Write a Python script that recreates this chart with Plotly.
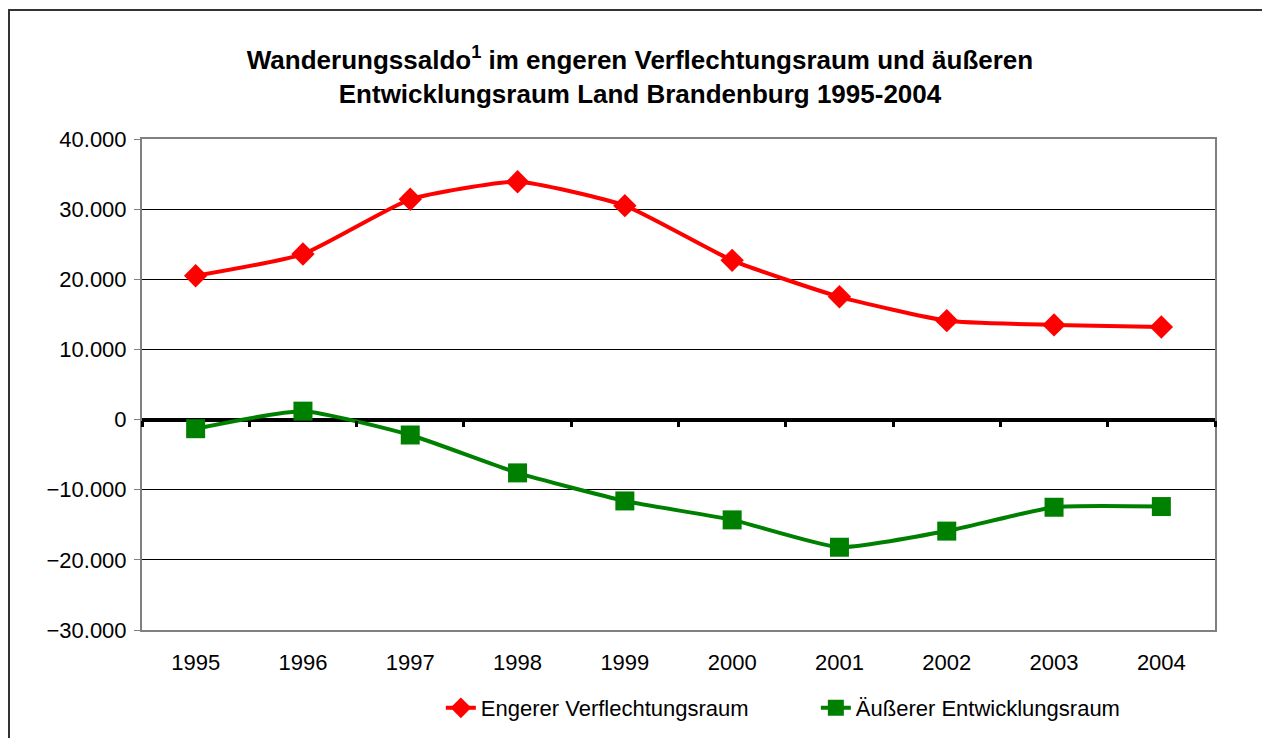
import plotly.graph_objects as go

years = ["1995", "1996", "1997", "1998", "1999", "2000", "2001", "2002", "2003", "2004"]
engerer = [20500, 23600, 31400, 33900, 30500, 22700, 17500, 14100, 13500, 13200]
aeusserer = [-1300, 1200, -2200, -7600, -11600, -14300, -18200, -15900, -12500, -12400]
y_ticks = [-30000, -20000, -10000, 0, 10000, 20000, 30000, 40000]

FONT = "Arial, Liberation Sans, sans-serif"

fig = go.Figure()
fig.add_trace(go.Scatter(
    x=years, y=engerer, name="Engerer Verflechtungsraum",
    mode="lines+markers", line=dict(color="#FF0000", width=4, shape="spline", smoothing=0.5),
    marker=dict(symbol="diamond", size=18, color="#FF0000"),
    xaxis="x", yaxis="y"))
fig.add_trace(go.Scatter(
    x=years, y=aeusserer, name="Äußerer Entwicklungsraum",
    mode="lines+markers", line=dict(color="#008000", width=4, shape="spline", smoothing=0.5),
    marker=dict(symbol="square", size=19, color="#008000"),
    xaxis="x2", yaxis="y"))

ymin, ymax = -30000, 40000
zero_pos = (0 - ymin) / (ymax - ymin)

W, H = 1262, 730
L, R, T, B = 134, 55, 131, 108
PW, PH = W - L - R, H - T - B

fig.update_layout(
    width=W, height=H,
    margin=dict(l=L, r=R, t=T, b=B, autoexpand=False),
    paper_bgcolor="white", plot_bgcolor="white",
    separators=",.",
    font=dict(family=FONT, size=22, color="black"),
    title=dict(
        text="<b>Wanderungssaldo<sup>1</sup> im engeren Verflechtungsraum und äußeren<br>Entwicklungsraum Land Brandenburg 1995-2004</b>",
        x=0.5008, xanchor="center", y=0.916, yanchor="middle",
        font=dict(family=FONT, size=26, color="black")),
    xaxis=dict(
        type="category", categoryorder="array", categoryarray=years,
        range=[-0.5, 9.5], showgrid=False, zeroline=False, automargin=False,
        showline=True, linecolor="#808080", linewidth=2, mirror=True,
        ticks="", ticklabelstandoff=12,
        tickfont=dict(family=FONT, size=22)),
    xaxis2=dict(
        type="category", categoryorder="array", categoryarray=years,
        range=[-0.5, 9.5], overlaying="x", anchor="free", position=zero_pos,
        showgrid=False, zeroline=False, showline=False, showticklabels=False,
        automargin=False,
        ticks="outside", tickson="boundaries", ticklen=6, tickwidth=3, tickcolor="black"),
    yaxis=dict(
        range=[ymin, ymax], tickvals=y_ticks, tickformat=",", automargin=False,
        showgrid=True, gridcolor="black", gridwidth=1,
        zeroline=True, zerolinecolor="black", zerolinewidth=4,
        showline=True, linecolor="#808080", linewidth=2, mirror=True,
        ticks="outside", ticklen=6, tickcolor="#808080", tickwidth=1,
        ticklabelstandoff=3,
        tickfont=dict(family=FONT, size=22)),
    legend=dict(
        orientation="h", x=0.628, xanchor="center", y=-0.159, yanchor="middle",
        font=dict(family=FONT, size=22), entrywidth=330, entrywidthmode="pixels",
        bgcolor="rgba(0,0,0,0)"),
    showlegend=True,
)

# outer chart border
fig.add_shape(type="rect", xref="paper", yref="paper",
              x0=(1 - L) / PW, x1=1.2, y0=-0.5, y1=1 + (T - 2) / PH,
              line=dict(color="#333333", width=2), fillcolor="rgba(0,0,0,0)", layer="below")

fig.write_html("out.html")
